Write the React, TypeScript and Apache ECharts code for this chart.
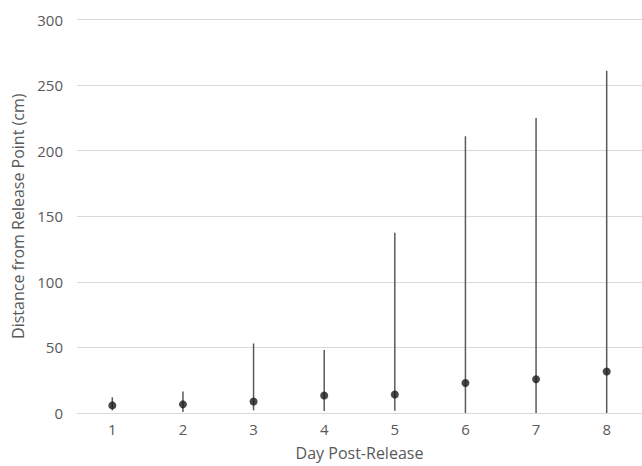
import React, { useEffect, useRef } from "react";
import * as echarts from "echarts";

const days = ["1", "2", "3", "4", "5", "6", "7", "8"];
const means = [5.8, 6.6, 8.8, 13.4, 14.1, 22.9, 25.7, 31.7];
const mins = [2, 0.7, 2, 1.5, 1.7, 0, 0, 0];
const maxs = [12, 16.4, 53, 48, 137.5, 211, 225, 261];
const yTicks = { min: 0, max: 300, interval: 50 };

export default function App() {
  const ref = useRef<HTMLDivElement>(null);
  useEffect(() => {
    if (!ref.current) return;
    const chart = echarts.init(ref.current, null, { renderer: "svg" });
    const font = "'Open Sans', 'Noto Sans', sans-serif";
    const rangeData = days.map((_, i) => [i, mins[i], maxs[i]]);
    chart.setOption({
      animation: false,
      backgroundColor: "#ffffff",
      grid: { left: 77, top: 19.5, width: 567, bottom: 49 },
      xAxis: {
        type: "category",
        data: days,
        name: "Day Post-Release",
        nameLocation: "middle",
        nameGap: 32,
        nameTextStyle: { color: "#595959", fontSize: 16, fontFamily: font },
        axisLine: { show: true, lineStyle: { color: "#d9d9d9", width: 1 } },
        axisTick: { show: false },
        axisLabel: { color: "#595959", fontSize: 15, fontFamily: font, margin: 8 },
        splitLine: { show: false },
      },
      yAxis: {
        type: "value",
        min: yTicks.min,
        max: yTicks.max,
        interval: yTicks.interval,
        name: "Distance from Release Point (cm)",
        nameLocation: "middle",
        nameGap: 50,
        nameTextStyle: { color: "#595959", fontSize: 16, fontFamily: font },
        axisLine: { show: false },
        axisTick: { show: false },
        axisLabel: { color: "#595959", fontSize: 15, fontFamily: font, margin: 14 },
        splitLine: { lineStyle: { color: "#d9d9d9", width: 1 } },
      },
      series: [
        {
          type: "custom",
          data: rangeData,
          encode: { x: 0, y: [1, 2] },
          renderItem: (params: any, api: any) => {
            const x = api.value(0);
            const lo = api.coord([x, api.value(1)]);
            const hi = api.coord([x, api.value(2)]);
            return {
              type: "line",
              shape: { x1: lo[0], y1: lo[1], x2: hi[0], y2: hi[1] },
              style: { stroke: "#595959", lineWidth: 1.5 },
            };
          },
          z: 1,
        },
        {
          type: "scatter",
          data: means,
          symbol: "circle",
          symbolSize: 8,
          itemStyle: { color: "#1a1a1a" },
          z: 2,
        },
      ],
    });
    return () => chart.dispose();
  }, []);
  return (
    <div
      ref={ref}
      style={{ position: "absolute", left: 0, top: 0, width: 642, height: 466 }}
    />
  );
}
